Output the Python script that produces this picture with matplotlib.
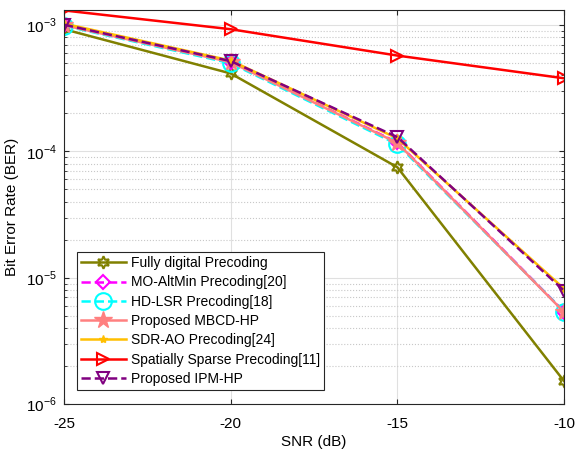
import numpy as np
import matplotlib
matplotlib.use("Agg")
import matplotlib.pyplot as plt
from matplotlib.ticker import LogLocator, NullFormatter

plt.rcParams['font.family'] = ['Liberation Sans', 'DejaVu Sans']
plt.rcParams['mathtext.fontset'] = 'custom'
plt.rcParams['mathtext.rm'] = 'Liberation Sans'
plt.rcParams['axes.unicode_minus'] = False

snr = [-25, -20, -15, -10]

fully_digital = [0.93e-3, 4.15e-4, 7.5e-5, 1.52e-6]
mo_altmin = [1.0e-3, 5.15e-4, 1.18e-4, 5.4e-6]
hd_lsr = [0.99e-3, 5.0e-4, 1.14e-4, 5.4e-6]
mbcd_hp = [1.0e-3, 5.1e-4, 1.17e-4, 5.35e-6]
sdr_ao = [1.03e-3, 5.25e-4, 1.27e-4, 8.2e-6]
spatially_sparse = [1.31e-3, 0.93e-3, 5.75e-4, 3.8e-4]
ipm_hp = [1.01e-3, 5.2e-4, 1.3e-4, 7.9e-6]

labels = ["Fully digital Precoding", "MO-AltMin Precoding[20]",
          "HD-LSR Precoding[18]", "Proposed MBCD-HP",
          "SDR-AO Precoding[24]", "Spatially Sparse Precoding[11]",
          "Proposed IPM-HP"]

fig = plt.figure(figsize=(5.76, 4.51), dpi=100)
ax = fig.add_axes([64 / 576, 1 - 404 / 451, 500 / 576, 394 / 451])

# hexagram like matlab 'h'
ax.semilogy(snr, fully_digital, '-', marker=(6, 1, 0), color=(0.5, 0.5, 0),
            lw=1.8, ms=9, mfc='none', mew=1.5, label=labels[0])
ax.semilogy(snr, mo_altmin, '--D', color='magenta', lw=1.8, ms=7,
            mfc='none', mew=1.5, label=labels[1])
ax.semilogy(snr, hd_lsr, '--o', color='cyan', lw=1.8, ms=12,
            mfc='none', mew=1.5, label=labels[2])
ax.semilogy(snr, mbcd_hp, '-*', color=(1, 0.5, 0.5), lw=1.8, ms=13,
            label=labels[3])
ax.semilogy(snr, sdr_ao, '-*', color=(1, 0.75, 0), lw=1.8, ms=6,
            label=labels[4])
ax.semilogy(snr, spatially_sparse, '->', color='red', lw=1.8, ms=9,
            mfc='none', mew=1.5, label=labels[5])
ax.semilogy(snr, ipm_hp, '--v', color=(0.5, 0, 0.5), lw=1.8, ms=9,
            mfc='none', mew=1.5, label=labels[6])

ax.set_xlim(-25, -10)
ax.set_ylim(1e-6, 1.32e-3)
ax.set_xticks([-25, -20, -15, -10])
ax.set_xticklabels(["-25", "-20", "-15", "-10"])
ax.set_yticks([1e-6, 1e-5, 1e-4, 1e-3])
ax.set_yticklabels([r"$10^{-6}$", r"$10^{-5}$", r"$10^{-4}$", r"$10^{-3}$"])
ax.yaxis.set_minor_locator(LogLocator(base=10, subs=np.arange(2, 10)))
ax.yaxis.set_minor_formatter(NullFormatter())

ax.grid(True, which='major', color='#e0e0e0', lw=0.8)
ax.grid(True, which='minor', axis='y', color='#c8c8c8', ls=':', lw=0.8)
ax.set_axisbelow(True)
ax.tick_params(which='both', direction='in', top=True, right=True,
               labelsize=11, color='#262626')
ax.tick_params(axis='x', pad=9)
ax.tick_params(axis='y', pad=5)
for s in ax.spines.values():
    s.set_color('#262626')

ax.set_xlabel("SNR (dB)", fontsize=11, labelpad=3)
ax.set_ylabel("Bit Error Rate (BER)", fontsize=11, labelpad=5)

leg = ax.legend(loc='lower left', bbox_to_anchor=(0.012, 0.018), fontsize=10,
                fancybox=False, edgecolor='#262626', framealpha=1,
                handlelength=3.2, borderpad=0.3, labelspacing=0.38,
                handletextpad=0.4)
leg.get_frame().set_linewidth(0.8)

fig.savefig("out.png", dpi=100)
